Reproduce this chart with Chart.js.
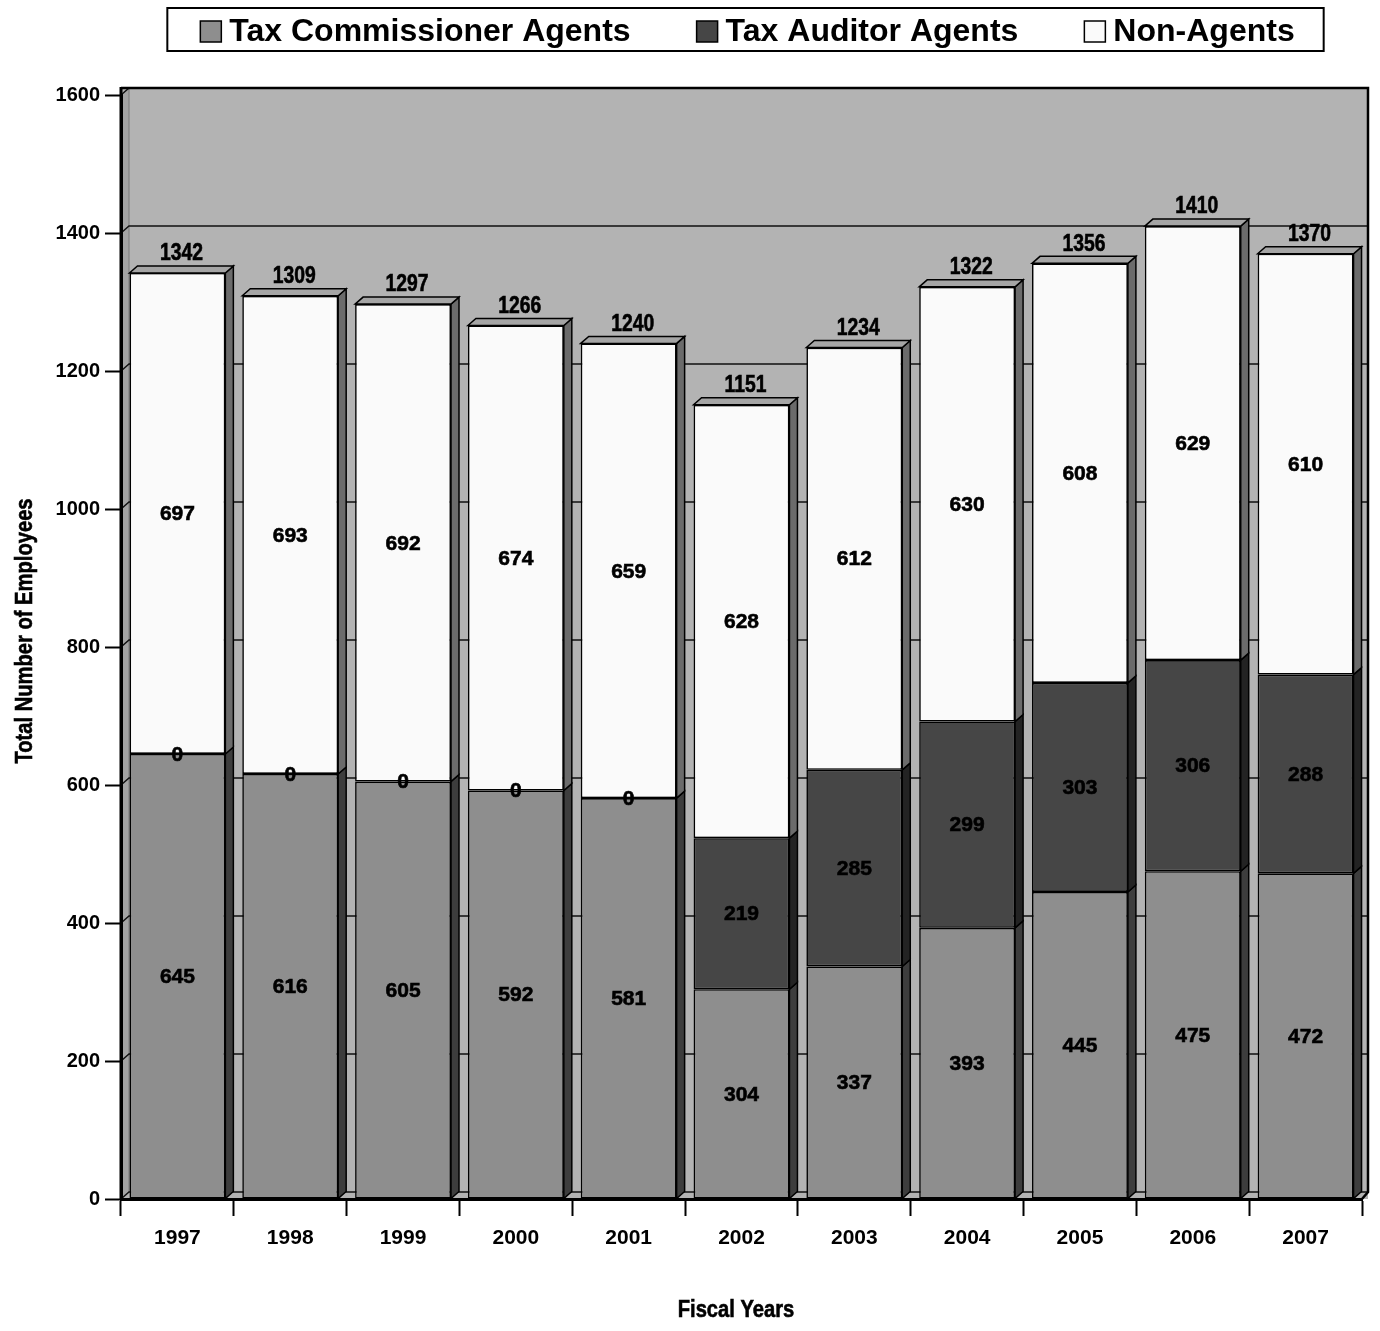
<!DOCTYPE html>
<html>
<head>
<meta charset="utf-8">
<title>Total Number of Employees by Fiscal Year</title>
<script src="https://cdn.jsdelivr.net/npm/chart.js@4.4.1/dist/chart.umd.min.js"></script>
<style>
  html, body { margin: 0; padding: 0; background: #ffffff; }
  #wrap { width: 1380px; height: 1331px; position: relative; }
</style>
</head>
<body>
<div id="wrap"><canvas id="employees" width="1380" height="1331"></canvas></div>
<script>
// ---- data ----
const fiscalYears = ['1997', '1998', '1999', '2000', '2001', '2002', '2003', '2004', '2005', '2006', '2007'];
const commissionerAgents = [645, 616, 605, 592, 581, 304, 337, 393, 445, 475, 472];
const auditorAgents      = [0, 0, 0, 0, 0, 219, 285, 299, 303, 306, 288];
const nonAgents          = [697, 693, 692, 674, 659, 628, 612, 630, 608, 629, 610];
const totalEmployees     = [1342, 1309, 1297, 1266, 1240, 1151, 1234, 1322, 1356, 1410, 1370];
const seriesNames = ['Tax Commissioner Agents', 'Tax Auditor Agents', 'Non-Agents'];
const yAxisMax = 1600;
const yAxisStep = 200;
const yAxisTitle = 'Total Number of Employees';
const xAxisTitle = 'Fiscal Years';

// ---- styling ----
const DX = 8, DY = -7;                       // depth offset of the 3D boxes
const FRONT = ['#8e8e8e', '#464646', '#fafafa'];
const SIDE  = ['#3d3d3d', '#232323', '#6b6b6b'];
const TOP_FACE = '#a5a5a5';
const WALL = '#b3b3b3';
const SIDE_WALL = '#a4a4a4';
const FONT = '"Liberation Sans", Arial, Helvetica, sans-serif';

function poly(ctx, pts, fill, stroke, lw) {
  ctx.beginPath();
  ctx.moveTo(pts[0][0], pts[0][1]);
  for (let k = 1; k < pts.length; k++) ctx.lineTo(pts[k][0], pts[k][1]);
  ctx.closePath();
  if (fill) { ctx.fillStyle = fill; ctx.fill(); }
  if (stroke) { ctx.strokeStyle = stroke; ctx.lineWidth = lw || 1; ctx.stroke(); }
}

// heavy bold text (fill plus a thin outline of the same colour)
function heavyText(ctx, text, x, y) {
  ctx.fillText(text, x, y);
  ctx.lineWidth = 0.6;
  ctx.strokeStyle = '#000';
  ctx.strokeText(text, x, y);
}

// condensed bold text: regular bold face squeezed horizontally
function narrowText(ctx, text, x, y, size, rotated) {
  ctx.save();
  ctx.translate(x, y);
  if (rotated) ctx.rotate(-Math.PI / 2);
  ctx.scale(0.84, 1);
  ctx.font = 'bold ' + size + 'px ' + FONT;
  ctx.fillStyle = '#000';
  ctx.textAlign = 'center';
  ctx.textBaseline = 'middle';
  heavyText(ctx, text, 0, 0);
  ctx.restore();
}

// back wall, side wall and gridlines behind the bars
const wallPlugin = {
  id: 'wall3d',
  beforeDraw(chart) {
    const { ctx, chartArea: a, scales: { y } } = chart;
    const top = y.getPixelForValue(y.max);
    const bottom = y.getPixelForValue(0);
    const L = a.left, R = a.right + DX - 2;
    ctx.save();
    ctx.fillStyle = WALL;
    ctx.fillRect(L, top + DY, R - L, bottom - top - DY);
    poly(ctx, [[L, top], [L + DX, top + DY], [L + DX, bottom + DY], [L, bottom]], SIDE_WALL);
    ctx.beginPath();
    ctx.moveTo(L + DX, top + DY);
    ctx.lineTo(L + DX, bottom + DY);
    ctx.strokeStyle = '#7a7a7a';
    ctx.lineWidth = 1;
    ctx.stroke();
    ctx.strokeStyle = '#111';
    ctx.lineWidth = 1.5;
    y.ticks.forEach(t => {
      const py = y.getPixelForValue(t.value);
      ctx.beginPath();
      ctx.moveTo(L, py);
      ctx.lineTo(L + DX, py + DY);
      ctx.lineTo(R, py + DY);
      ctx.stroke();
    });
    ctx.beginPath();
    ctx.moveTo(L, top + DY);
    ctx.lineTo(R, top + DY);
    ctx.lineTo(R, bottom + DY);
    ctx.lineTo(a.right, bottom);
    ctx.strokeStyle = '#000';
    ctx.lineWidth = 2.5;
    ctx.stroke();
    ctx.restore();
  },
  afterDraw(chart) {
    const { ctx, chartArea: a, scales: { y } } = chart;
    const top = y.getPixelForValue(y.max);
    const bottom = y.getPixelForValue(0);
    ctx.save();
    ctx.beginPath();
    ctx.moveTo(a.left, top + DY - 1);
    ctx.lineTo(a.left, bottom + 1);
    ctx.strokeStyle = '#000';
    ctx.lineWidth = 3;
    ctx.stroke();
    ctx.restore();
  }
};

// side and top faces of the boxes, then the value labels
const boxPlugin = {
  id: 'boxes3d',
  afterDatasetsDraw(chart) {
    const ctx = chart.ctx;
    const sets = chart.data.datasets;
    const last = sets.length - 1;
    ctx.save();
    ctx.lineJoin = 'miter';
    sets.forEach((ds, i) => {
      chart.getDatasetMeta(i).data.forEach((bar, j) => {
        const p = bar.getProps(['x', 'y', 'base', 'width'], true);
        const left = p.x - p.width / 2, right = p.x + p.width / 2;
        const top = Math.min(p.y, p.base), bottom = Math.max(p.y, p.base);
        if (bottom - top > 0.5) {
          poly(ctx, [[right, top], [right + DX, top + DY], [right + DX, bottom + DY], [right, bottom]], SIDE[i], '#000', 1.5);
        }
        if (i === last) {
          poly(ctx, [[left, top], [left + DX, top + DY], [right + DX, top + DY], [right, top]], TOP_FACE, '#000', 1.5);
        }
      });
    });
    // segment values
    ctx.font = 'bold 21px ' + FONT;
    ctx.fillStyle = '#000';
    ctx.textAlign = 'center';
    ctx.textBaseline = 'middle';
    sets.forEach((ds, i) => {
      chart.getDatasetMeta(i).data.forEach((bar, j) => {
        const p = bar.getProps(['x', 'y', 'base'], true);
        heavyText(ctx, String(ds.data[j]), p.x, (p.y + p.base) / 2 + 1);
      });
    });
    // totals above each stack
    chart.getDatasetMeta(last).data.forEach((bar, j) => {
      const p = bar.getProps(['x', 'y'], true);
      narrowText(ctx, String(totalEmployees[j]), p.x + DX / 2, p.y + DY - 12, 23, false);
    });
    ctx.restore();
  }
};

// framed legend and axis titles
const legendTitlePlugin = {
  id: 'legendTitles',
  afterDraw(chart) {
    const { ctx, chartArea: a } = chart;
    const sets = chart.data.datasets;
    ctx.save();
    ctx.font = 'bold 32px ' + FONT;
    const sw = 21, gapText = 8, gapItem = 66;
    const widths = sets.map(ds => sw + gapText + ctx.measureText(ds.label).width);
    const total = widths.reduce((s, w) => s + w, 0) + gapItem * (sets.length - 1);
    const cx = (a.left + a.right) / 2 + 6;
    let x = cx - total / 2;
    const boxL = x - 33, boxR = x + total + 29;
    ctx.fillStyle = '#fff';
    ctx.fillRect(boxL, 8, boxR - boxL, 43);
    ctx.strokeStyle = '#000';
    ctx.lineWidth = 2;
    ctx.strokeRect(boxL, 8, boxR - boxL, 43);
    ctx.textBaseline = 'middle';
    ctx.textAlign = 'left';
    sets.forEach((ds, i) => {
      ctx.fillStyle = ds.backgroundColor;
      ctx.fillRect(x, 21, sw, sw);
      ctx.lineWidth = 1.5;
      ctx.strokeStyle = '#000';
      ctx.strokeRect(x, 21, sw, sw);
      ctx.fillStyle = '#000';
      ctx.fillText(ds.label, x + sw + gapText, 32);
      x += widths[i] + gapItem;
    });
    narrowText(ctx, yAxisTitle, 25, 631, 24, true);
    narrowText(ctx, xAxisTitle, 736, 1310, 24, false);
    ctx.restore();
  }
};

const datasets = [commissionerAgents, auditorAgents, nonAgents].map((values, i) => ({
  label: seriesNames[i],
  data: values,
  backgroundColor: FRONT[i],
  borderColor: '#000',
  // an empty segment draws no outline of its own
  borderWidth: c => (c.raw === 0 ? 0 : 1.6),
  borderSkipped: false,
  barPercentage: 0.85,
  categoryPercentage: 1.0
}));

new Chart(document.getElementById('employees'), {
  type: 'bar',
  data: { labels: fiscalYears, datasets },
  plugins: [wallPlugin, boxPlugin, legendTitlePlugin],
  options: {
    responsive: false,
    animation: false,
    devicePixelRatio: 1,
    layout: { padding: { top: 95, right: 18, bottom: 0, left: 0 } },
    plugins: {
      legend: { display: false },
      tooltip: { enabled: false }
    },
    scales: {
      x: {
        stacked: true,
        afterFit: s => { s.height = 132; },
        grid: {
          offset: true,
          drawOnChartArea: false,
          drawTicks: true,
          tickLength: 17,
          tickColor: '#000',
          tickWidth: 2
        },
        border: { display: true, color: '#000', width: 3 },
        ticks: {
          color: '#000',
          font: { family: FONT, size: 21, weight: 'bold' },
          padding: 10,
          maxRotation: 0
        }
      },
      y: {
        stacked: true,
        min: 0,
        max: yAxisMax,
        afterFit: s => { s.width = 121; },
        grid: {
          drawOnChartArea: false,
          drawTicks: true,
          tickLength: 16,
          tickColor: '#000',
          tickWidth: 2
        },
        border: { display: true, color: '#000', width: 3 },
        ticks: {
          stepSize: yAxisStep,
          color: '#000',
          font: { family: FONT, size: 20, weight: 'bold' },
          padding: 5,
          callback: v => String(v)
        }
      }
    }
  }
});
</script>
</body>
</html>
